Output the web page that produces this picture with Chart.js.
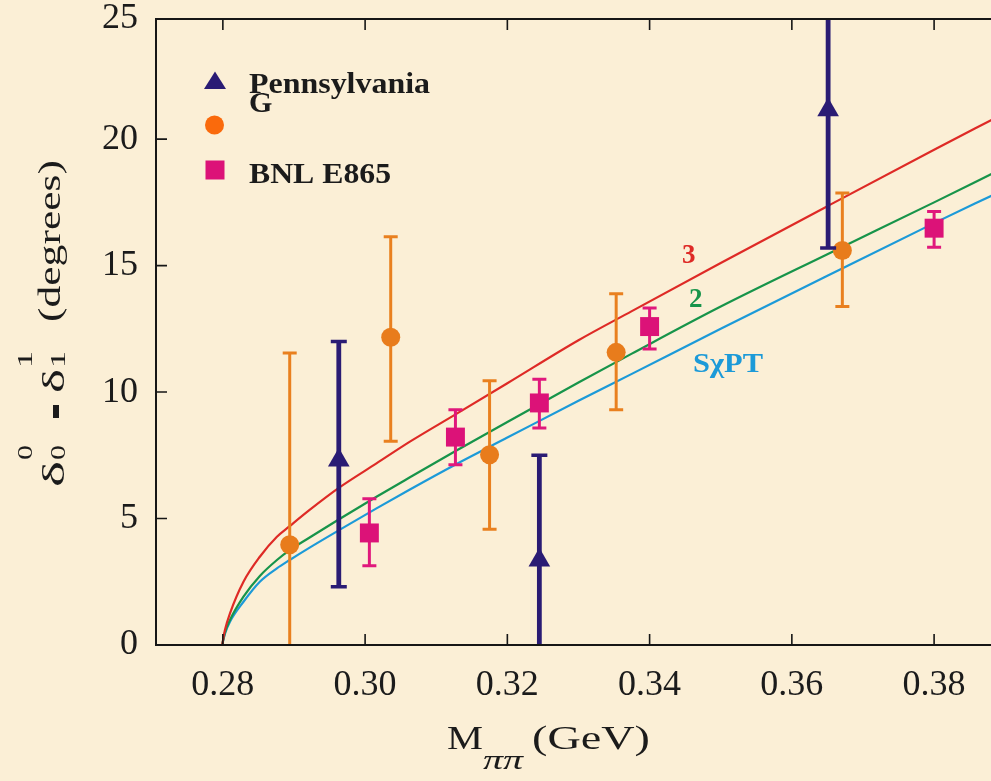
<!DOCTYPE html>
<html>
<head>
<meta charset="utf-8">
<script src="https://cdn.jsdelivr.net/npm/chart.js@4.4.1/dist/chart.umd.min.js"></script>
<style>
  html, body { margin: 0; padding: 0; background: #fbefd6; overflow: hidden; }
  canvas { display: block; }
</style>
</head>
<body>
<canvas id="desfase" width="991" height="781"></canvas>
<script>
// curvas teoricas (M_pipi en GeV, desfase en grados)
var curveX  = [0.2799, 0.2803, 0.2810, 0.2829, 0.2852, 0.2876, 0.2894, 0.2922, 0.2964, 0.3016, 0.3063, 0.3126, 0.3200, 0.3300, 0.3375, 0.3500, 0.3650, 0.3800, 0.3885];
var curve3  = [0, 0.6, 1.25, 2.5, 3.49, 4.28, 4.70, 5.34, 6.23, 7.18, 8.04, 9.1, 10.35, 12.05, 13.2, 15.1, 17.35, 19.58, 20.82];
var curve2  = [0, 0.5, 0.99, 1.91, 2.73, 3.36, 3.75, 4.25, 4.98, 5.86, 6.63, 7.65, 8.82, 10.38, 11.52, 13.38, 15.45, 17.5, 18.68];
var curveS  = [0, 0.45, 0.92, 1.71, 2.5, 3.03, 3.36, 3.85, 4.55, 5.4, 6.15, 7.12, 8.2, 9.66, 10.72, 12.5, 14.6, 16.68, 17.82];

// Pennsylvania
var pennX  = [0.2963, 0.3245, 0.3651];
var pennY  = [7.3, 3.35, 21.15];
var pennLo = [2.3, -0.8, 15.7];
var pennHi = [12.0, 7.5, 26.6];

// G
var gX  = [0.2894, 0.3036, 0.3175, 0.3353, 0.3671];
var gY  = [3.96, 12.17, 7.52, 11.57, 15.6];
var gLo = [-3.6, 8.06, 4.58, 9.3, 13.38];
var gHi = [11.54, 16.14, 10.45, 13.89, 17.87];

// BNL E865
var bnlX  = [0.3006, 0.3127, 0.3245, 0.3400, 0.3800];
var bnlY  = [4.43, 8.22, 9.57, 12.59, 16.48];
var bnlLo = [3.13, 7.13, 8.58, 11.7, 15.73];
var bnlHi = [5.78, 9.3, 10.51, 13.32, 17.14];

var xTicks = [0.28, 0.30, 0.32, 0.34, 0.36, 0.38];
var yTicks = [0, 5, 10, 15, 20, 25];
var xMin = 0.2706, xMax = 0.3880;
var yMin = 0, yMax = 24.75;

var SERIF = '"Liberation Serif", "Times New Roman", serif';

function puntos(xs, ys) {
    return xs.map(function (x, i) { return { x: x, y: ys[i] }; });
}

// escribe un texto estirado hasta un ancho dado
function textoAncho(ctx, txt, x, y, ancho) {
    var w = ctx.measureText(txt).width;
    ctx.save();
    ctx.translate(x, y);
    ctx.scale(ancho / w, 1);
    ctx.fillText(txt, 0, 0);
    ctx.restore();
}

// barras de error, se pintan antes de los marcadores de cada serie
var erroresPlugin = {
    id: 'errores',
    beforeDatasetDraw: function (chart, args) {
        var ds = chart.data.datasets[args.index];
        if (!ds.errLo) return;
        var ctx = chart.ctx, a = chart.chartArea;
        var sx = chart.scales.x, sy = chart.scales.y;
        ctx.save();
        ctx.beginPath();
        ctx.rect(a.left, a.top, a.right - a.left, a.bottom - a.top);
        ctx.clip();
        ctx.strokeStyle = ds.errColor;
        ds.data.forEach(function (p, i) {
            var px = sx.getPixelForValue(p.x);
            var lo = sy.getPixelForValue(ds.errLo[i]);
            var hi = sy.getPixelForValue(ds.errHi[i]);
            ctx.lineWidth = ds.errWidth;
            ctx.beginPath();
            ctx.moveTo(px, lo); ctx.lineTo(px, hi);
            ctx.stroke();
            ctx.lineWidth = ds.capWidth;
            ctx.beginPath();
            ctx.moveTo(px - ds.cap, lo); ctx.lineTo(px + ds.cap, lo);
            ctx.moveTo(px - ds.cap, hi); ctx.lineTo(px + ds.cap, hi);
            ctx.stroke();
        });
        ctx.restore();
    }
};

// marco con marcas hacia dentro, textos y leyenda
var marcoPlugin = {
    id: 'marco',
    afterDraw: function (chart) {
        var ctx = chart.ctx, a = chart.chartArea;
        var sx = chart.scales.x, sy = chart.scales.y;
        ctx.save();
        ctx.strokeStyle = '#161616';
        ctx.lineWidth = 2;
        ctx.beginPath();
        ctx.moveTo(a.right + 4, a.top);
        ctx.lineTo(a.left, a.top);
        ctx.lineTo(a.left, a.bottom);
        ctx.lineTo(a.right + 4, a.bottom);
        ctx.stroke();

        ctx.lineWidth = 1.6;
        ctx.beginPath();
        xTicks.forEach(function (v) {
            var px = sx.getPixelForValue(v);
            ctx.moveTo(px, a.bottom); ctx.lineTo(px, a.bottom - 11);
            ctx.moveTo(px, a.top); ctx.lineTo(px, a.top + 11);
        });
        yTicks.forEach(function (v) {
            if (v <= yMin || v >= yMax) return;
            var py = sy.getPixelForValue(v);
            ctx.moveTo(a.left, py); ctx.lineTo(a.left + 11, py);
        });
        ctx.stroke();

        ctx.fillStyle = '#1b1b1b';
        ctx.textAlign = 'left';
        ctx.textBaseline = 'alphabetic';

        // titulo eje x
        ctx.font = '34px ' + SERIF;
        textoAncho(ctx, 'M', 447, 749, 36);
        ctx.font = 'italic 28px ' + SERIF;
        textoAncho(ctx, '\u03c0\u03c0', 483, 769, 40);
        ctx.font = '34px ' + SERIF;
        textoAncho(ctx, '(GeV)', 532, 749, 118);

        // titulo eje y (girado)
        ctx.save();
        ctx.translate(62, 0);
        ctx.rotate(-Math.PI / 2);
        ctx.font = '31px ' + SERIF;
        textoAncho(ctx, '\u03b4', -487, 2, 26);
        ctx.font = '22px ' + SERIF;
        textoAncho(ctx, '0', -460, 3, 15);
        textoAncho(ctx, '0', -460, -30, 15);
        ctx.fillRect(-418, -9, 13, 6);
        ctx.font = '31px ' + SERIF;
        textoAncho(ctx, '\u03b4', -393, 2, 24);
        ctx.font = '22px ' + SERIF;
        textoAncho(ctx, '1', -368, 3, 17);
        textoAncho(ctx, '1', -368, -30, 17);
        ctx.font = '31px ' + SERIF;
        textoAncho(ctx, '(degrees)', -322, -2, 162);
        ctx.restore();

        // leyenda
        ctx.fillStyle = '#2a1b74';
        ctx.beginPath();
        ctx.moveTo(215, 71.5); ctx.lineTo(226, 89); ctx.lineTo(204, 89);
        ctx.closePath(); ctx.fill();
        ctx.fillStyle = '#fa6a0c';
        ctx.beginPath();
        ctx.arc(214.5, 125, 9.5, 0, Math.PI * 2);
        ctx.fill();
        ctx.fillStyle = '#dc1278';
        ctx.fillRect(205.5, 160.5, 19, 19);

        ctx.fillStyle = '#1b1b1b';
        ctx.font = 'bold 30px ' + SERIF;
        textoAncho(ctx, 'Pennsylvania', 249, 93, 181);
        ctx.fillText('G', 249, 112);
        textoAncho(ctx, 'BNL E865', 249, 183, 142);

        // etiquetas de las curvas
        ctx.font = 'bold 27px ' + SERIF;
        ctx.fillStyle = '#de2a26';
        ctx.fillText('3', 682, 263);
        ctx.fillStyle = '#17944a';
        ctx.fillText('2', 689, 307);
        ctx.fillStyle = '#1c9ad8';
        textoAncho(ctx, 'S\u03c7PT', 693, 372, 70);
        ctx.restore();
    }
};

var ctx = document.getElementById('desfase').getContext('2d');
var chart = new Chart(ctx, {
    type: 'scatter',
    data: {
        datasets: [{
            label: '3',
            data: puntos(curveX, curve3),
            showLine: true,
            borderColor: '#de2a26',
            borderWidth: 2.2,
            pointRadius: 0,
            cubicInterpolationMode: 'monotone',
            order: 3
        }, {
            label: '2',
            data: puntos(curveX, curve2),
            showLine: true,
            borderColor: '#17944a',
            borderWidth: 2.2,
            pointRadius: 0,
            cubicInterpolationMode: 'monotone',
            order: 3
        }, {
            label: 'SChPT',
            data: puntos(curveX, curveS),
            showLine: true,
            borderColor: '#1c9ad8',
            borderWidth: 2.2,
            pointRadius: 0,
            cubicInterpolationMode: 'monotone',
            order: 3
        }, {
            label: 'G',
            data: puntos(gX, gY),
            pointStyle: 'circle',
            pointRadius: 9.5,
            backgroundColor: '#e87c1c',
            borderColor: '#e87c1c',
            borderWidth: 0,
            errLo: gLo, errHi: gHi, errColor: '#e9801f', errWidth: 3, capWidth: 3, cap: 7,
            order: 2
        }, {
            label: 'BNL E865',
            data: puntos(bnlX, bnlY),
            pointStyle: 'rect',
            pointRadius: 13.4,
            backgroundColor: '#dc1278',
            borderColor: '#dc1278',
            borderWidth: 0,
            errLo: bnlLo, errHi: bnlHi, errColor: '#e0187c', errWidth: 3, capWidth: 3, cap: 7,
            order: 1
        }, {
            label: 'Pennsylvania',
            data: puntos(pennX, pennY),
            pointStyle: 'triangle',
            pointRadius: 12.5,
            backgroundColor: '#2a1b74',
            borderColor: '#2a1b74',
            borderWidth: 0,
            errLo: pennLo, errHi: pennHi, errColor: '#2a1b74', errWidth: 4.8, capWidth: 3.5, cap: 8,
            order: 0
        }]
    },
    options: {
        responsive: false,
        animation: false,
        devicePixelRatio: 1,
        layout: { autoPadding: false, padding: { top: 19, left: 0, right: 0, bottom: 0 } },
        plugins: { legend: { display: false }, tooltip: { enabled: false } },
        scales: {
            x: {
                type: 'linear',
                min: xMin,
                max: xMax,
                grid: { display: false, drawTicks: false },
                border: { display: false },
                afterBuildTicks: function (axis) {
                    axis.ticks = xTicks.map(function (v) { return { value: v }; });
                },
                afterFit: function (scale) {
                    scale.height = 136;
                    scale.paddingLeft = 0;
                    scale.paddingRight = 0;
                },
                ticks: {
                    autoSkip: false,
                    maxRotation: 0,
                    padding: 19,
                    color: '#1b1b1b',
                    font: { family: SERIF, size: 36 },
                    callback: function (v) { return Number(v).toFixed(2); }
                }
            },
            y: {
                type: 'linear',
                min: yMin,
                max: yMax,
                grid: { display: false, drawTicks: false },
                border: { display: false },
                afterBuildTicks: function (axis) {
                    axis.ticks = yTicks.map(function (v) { return { value: Math.min(v, yMax) }; });
                },
                afterFit: function (scale) {
                    scale.width = 156;
                    scale.paddingTop = 0;
                    scale.paddingBottom = 0;
                },
                ticks: {
                    autoSkip: false,
                    padding: 18,
                    color: '#1b1b1b',
                    font: { family: SERIF, size: 36 },
                    callback: function (v, i) { return String(yTicks[i]); }
                }
            }
        }
    },
    plugins: [erroresPlugin, marcoPlugin]
});
</script>
</body>
</html>
